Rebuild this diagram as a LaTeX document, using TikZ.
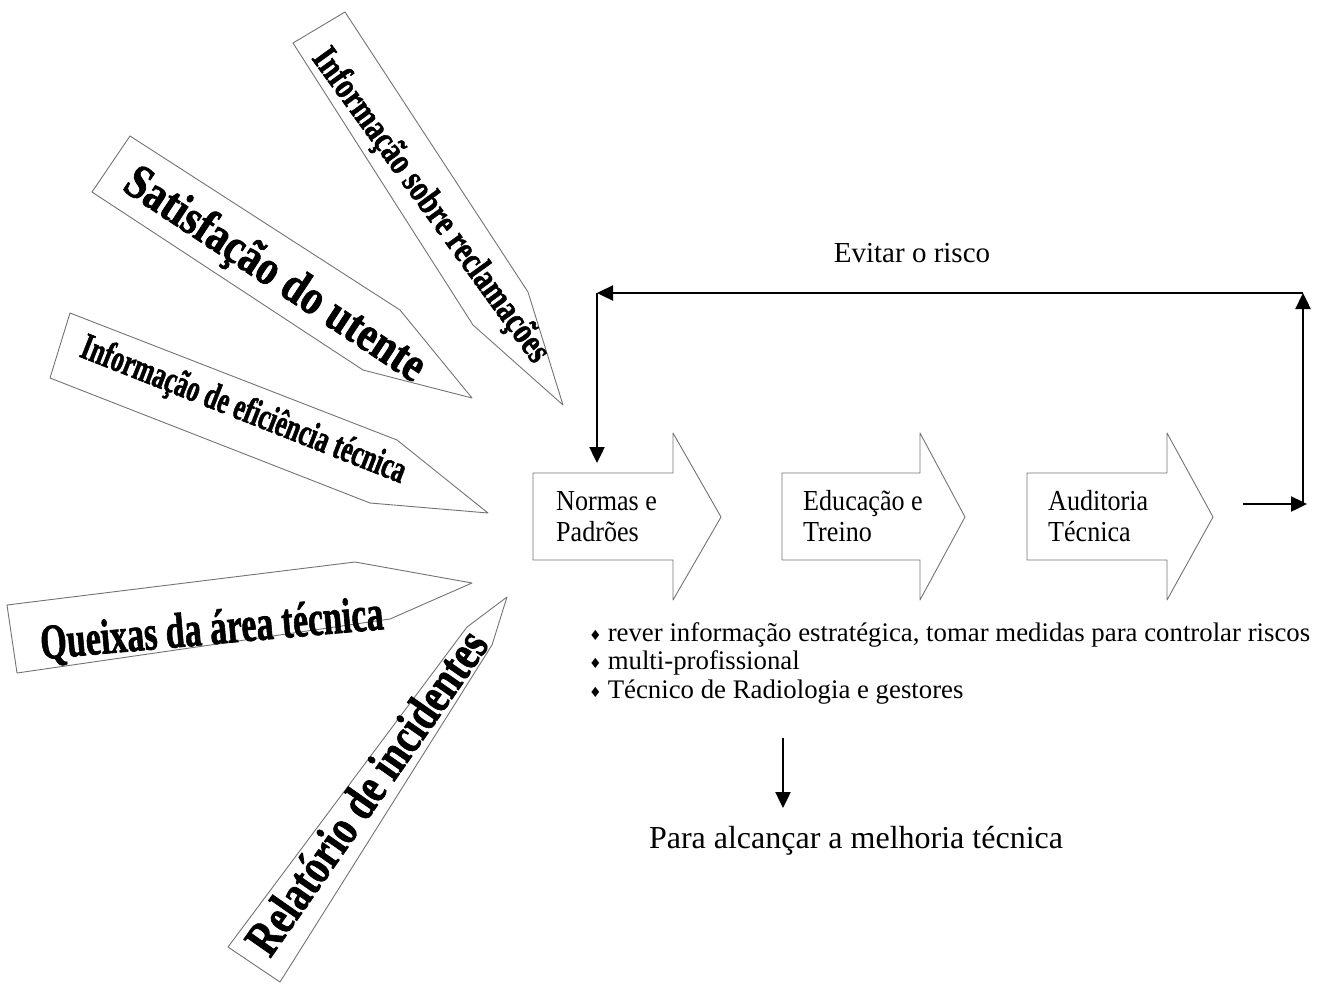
\documentclass[tikz,border=0pt]{standalone}
\usepackage{fontspec}
\setmainfont{Liberation Serif}
\newfontfamily\symfont{DejaVu Sans}
\newfontfamily\artfont[BoldFeatures={FakeBold=1.6}]{Liberation Serif}
\usetikzlibrary{arrows.meta}

\newcommand\fsz[1]{\fontsize{#1}{#1}\selectfont}
\newcommand\bul{{\symfont\fsz{14}\raisebox{0.5pt}{♦}}\hspace{6pt}}

\begin{document}
\begin{tikzpicture}[x=1pt,y=-1pt,
  outline/.style={draw=black!55, line width=0.9pt, line join=round},
  link/.style={line width=2.4pt, -{Triangle[length=16pt,width=15pt]}},
  wordart/.style={inner sep=0pt, font=\artfont\bfseries},
  steptext/.style={inner sep=0pt, anchor=base west},
  plaintext/.style={inner sep=0pt, anchor=base},
]
\useasboundingbox (0,0) rectangle (1323,983);

% ---- incoming information arrows ----
\draw[outline] (293,43) -- (345,12) -- (528,292) -- (563,405) -- (473,325) -- cycle;
\node[wordart, rotate=-54] (reclam) at (430,206)
  {\scalebox{0.97}[1.25]{\fsz{30}Informação sobre reclamações}};

\draw[outline] (92,192) -- (130,136) -- (400,310) -- (472,398) -- (363,370) -- cycle;
\node[wordart, rotate=-33.5] (satisf) at (274,276)
  {\scalebox{1}[1.2]{\fsz{41}Satisfação do utente}};

\draw[outline] (70,313) -- (397,440) -- (488,513) -- (370,503) -- (50,378) -- cycle;
\node[wordart, rotate=-21.5] (eficien) at (243,411)
  {\scalebox{0.7}[1.05]{\fsz{36}Informação de eficiência técnica}};

\draw[outline] (7,605) -- (355,562) -- (472,583) -- (390,619) -- (17,673) -- cycle;
\node[wordart, rotate=5] (queixas) at (212,631)
  {\scalebox{1}[1.45]{\fsz{34}Queixas da área técnica}};

\draw[outline] (228,947) -- (467,627) -- (507,597) -- (492,645) -- (280,982) -- cycle;
\node[wordart, rotate=55] (relat) at (366,792)
  {\scalebox{0.98}[1.25]{\fsz{40}Relatório de incidentes}};

% ---- process steps ----
\draw[outline] (533,473) -- (673,473) -- (673,433) -- (721,517) -- (673,600) -- (673,560) -- (533,560) -- cycle;
\draw[outline] (782,473) -- (920,473) -- (920,433) -- (965,517) -- (920,600) -- (920,560) -- (782,560) -- cycle;
\draw[outline] (1027,473) -- (1167,473) -- (1167,433) -- (1213,517) -- (1167,600) -- (1167,560) -- (1027,560) -- cycle;

\node[steptext] (normasA) at (556,510) {\scalebox{0.9}[1]{\fsz{29}Normas e}};
\node[steptext] (normasB) at (556,541) {\scalebox{0.9}[1]{\fsz{29}Padrões}};
\node[steptext] (educA) at (803,510) {\scalebox{0.9}[1]{\fsz{29}Educação e}};
\node[steptext] (educB) at (803,541) {\scalebox{0.9}[1]{\fsz{29}Treino}};
\node[steptext] (auditA) at (1048,510) {\scalebox{0.9}[1]{\fsz{29}Auditoria}};
\node[steptext] (auditB) at (1048,541) {\scalebox{0.9}[1]{\fsz{29}Técnica}};

% ---- feedback loop ----
\coordinate (outStart) at (1243,504);
\coordinate (outEnd) at (1307,504);
\coordinate (loopBR) at (1303,504);
\coordinate (loopTR) at (1303,293);
\coordinate (loopTL) at (597,293);
\coordinate (loopIn) at (597,463);

\draw[link] (outStart) -- (outEnd);
\draw[link] (loopBR) -- (loopTR);
\draw[link] (loopTR) -- (loopTL);
\draw[link] (loopTL) -- (loopIn);

\node[plaintext] (evitar) at (912,262) {\fsz{29}Evitar o risco};

% ---- notes ----
\node[steptext] (b1) at (589,641) {\bul\fsz{26.8}rever informação estratégica, tomar medidas para controlar riscos};
\node[steptext] (b2) at (589,669) {\bul\fsz{26.8}multi-profissional};
\node[steptext] (b3) at (589,698) {\bul\fsz{26.8}Técnico de Radiologia e gestores};

\coordinate (downStart) at (783,738);
\coordinate (downEnd) at (783,808);
\draw[link] (downStart) -- (downEnd);

\node[plaintext] (melhoria) at (856,848) {\fsz{32}Para alcançar a melhoria técnica};
\end{tikzpicture}
\end{document}
